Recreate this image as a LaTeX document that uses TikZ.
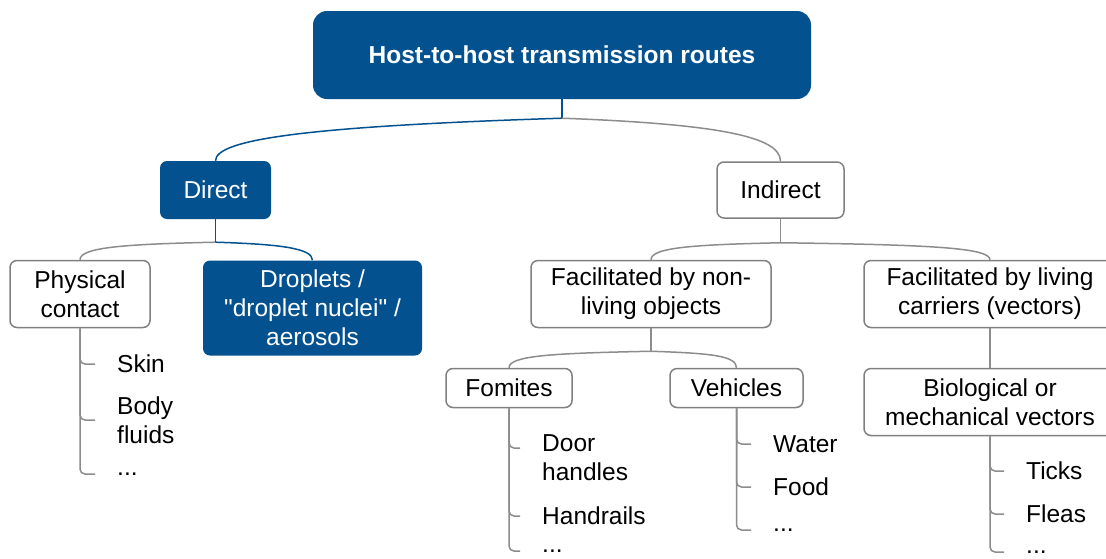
\documentclass[tikz,border=0pt]{standalone}
\usepackage{fontspec}
\setmainfont{Liberation Sans}[Ligatures=TeXOff]
\usepackage{tikz}
\usetikzlibrary{positioning,calc}

\definecolor{ecdcblue}{RGB}{3,82,143}
\definecolor{boxgrey}{RGB}{128,128,128}
\definecolor{linkgrey}{RGB}{140,140,140}

\tikzset{
  bluebox/.style={rounded corners=7pt,fill=ecdcblue,text=white,align=center,inner sep=0pt},
  greybox/.style={rounded corners=7pt,draw=boxgrey,line width=1.5pt,fill=white,align=center,inner sep=0pt},
  item/.style={anchor=west,align=left,inner sep=0pt},
  link/.style={draw=linkgrey,line width=1.5pt},
  bluelink/.style={draw=ecdcblue,line width=1.5pt}
}

\begin{document}
\begin{tikzpicture}[
    x=1pt,y=-1pt,
    every node/.style={font=\fontsize{24.5}{29}\selectfont}
    ]

    \useasboundingbox (0,0) rectangle (1106,558);

    % top
    \node[bluebox,rounded corners=14pt,minimum width=498pt,minimum height=88pt,
      font=\fontsize{24.5}{29}\selectfont\bfseries] (title) at (562,55)
    {Host-to-host transmission routes};

    % second level
    \node[bluebox,minimum width=111pt,minimum height=58pt] (direct) at (215.5,190)
    {Direct};
    \node[greybox,minimum width=127pt,minimum height=56pt] (indirect) at (780.5,190)
    {Indirect};

    % third level
    \node[greybox,minimum width=140pt,minimum height=67pt] (phys) at (80,294)
    {Physical\\contact};
    \node[bluebox,minimum width=219pt,minimum height=95pt] (drop) at (312.5,308)
    {Droplets /\\"droplet nuclei" /\\aerosols};
    \node[greybox,minimum width=240pt,minimum height=67pt] (nonliv) at (651,294)
    {Facilitated by non-\\living objects};
    \node[greybox,minimum width=252pt,minimum height=67pt] (living) at (990,294)
    {Facilitated by living\\carriers (vectors)};

    % fourth level
    \node[greybox,minimum width=126pt,minimum height=39pt] (fomites) at (509,388)
    {Fomites};
    \node[greybox,minimum width=133pt,minimum height=39pt] (vehicles) at (736.5,388)
    {Vehicles};
    \node[greybox,minimum width=252pt,minimum height=67pt] (bio) at (990,402)
    {Biological or\\mechanical vectors};

    % lists
    \node[item] (skin) at (117,364) {Skin};
    \node[item] (body) at (117,420) {Body\\fluids};
    \node[item] (pdots) at (117,474) {...};

    \node[item] (door) at (542,458) {Door\\handles};
    \node[item] (handrails) at (542,516) {Handrails};
    \node[item] (fdots) at (542,551) {...};

    \node[item] (water) at (773,444) {Water};
    \node[item] (food) at (773,487) {Food};
    \node[item] (vdots) at (773,530) {...};

    \node[item] (ticks) at (1026,471) {Ticks};
    \node[item] (fleas) at (1026,514) {Fleas};
    \node[item] (bdots) at (1026,552) {...};

    % junctions
    \coordinate[below=19pt of title] (jtop);
    \coordinate[below=23pt of direct] (jdirect);
    \coordinate[below=24pt of indirect] (jindirect);
    \coordinate[below=23pt of nonliv] (jnonliv);

    % tree links
    \draw[bluelink] (title) -- (jtop);
    \draw[bluelink] (jtop) .. controls +(-250,8) and +(0,-22) .. (direct.north);
    \draw[link] (jtop) .. controls +(160,6) and +(0,-24) .. (indirect.north);

    \draw[bluelink] (direct) -- (jdirect);
    \draw[link] (jdirect) .. controls +(-95,2) and +(0,-12) .. (phys.north);
    \draw[bluelink] (jdirect) .. controls +(65,2) and +(0,-12) .. (drop.north);

    \draw[link] (indirect) -- (jindirect);
    \draw[link] (jindirect) .. controls +(-90,2) and +(0,-12) .. (nonliv.north);
    \draw[link] (jindirect) .. controls +(150,2) and +(0,-12) .. (living.north);

    \draw[link] (nonliv) -- (jnonliv);
    \draw[link] (jnonliv) .. controls +(-100,2) and +(0,-12) .. (fomites.north);
    \draw[link] (jnonliv) .. controls +(60,2) and +(0,-12) .. (vehicles.north);

    \draw[link] (living) -- (bio);

    % list ticks
    \foreach \it in {skin,body,pdots}
      \draw[link,rounded corners=5pt] (phys.south) |- ([xshift=-22pt]\it.west);
    \draw[link,rounded corners=5pt] (fomites.south) |- ([xshift=-22pt,yshift=10pt]door.west);
    \foreach \it in {handrails,fdots}
      \draw[link,rounded corners=5pt] (fomites.south) |- ([xshift=-22pt]\it.west);
    \foreach \it in {water,food,vdots}
      \draw[link,rounded corners=5pt] (vehicles.south) |- ([xshift=-22pt]\it.west);
    \foreach \it in {ticks,fleas,bdots}
      \draw[link,rounded corners=5pt] (bio.south) |- ([xshift=-22pt]\it.west);

\end{tikzpicture}
\end{document}
